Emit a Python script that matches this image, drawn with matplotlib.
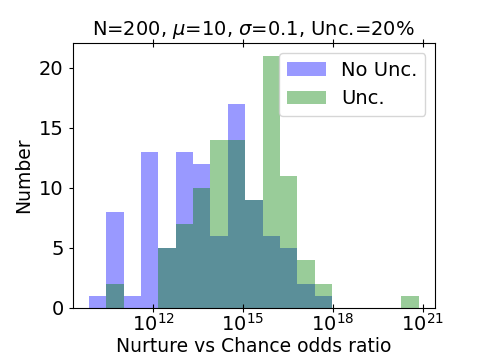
import numpy as np
import matplotlib
matplotlib.use('Agg')
import matplotlib.pyplot as plt

# log10 bin edges (19 bins)
log_lo, log_hi, nbins = 9.867, 20.856, 19
no_unc = [1, 8, 1, 13, 5, 13, 12, 6, 17, 9, 6, 5, 2, 1, 0, 0, 0, 0, 0]
unc = [0, 2, 0, 0, 5, 7, 10, 14, 14, 9, 21, 11, 4, 2, 0, 0, 0, 0, 1]
xticks = [1e12, 1e15, 1e18, 1e21]

edges = 10 ** np.linspace(log_lo, log_hi, nbins + 1)
centers = np.sqrt(edges[:-1] * edges[1:])

fig = plt.figure(figsize=(4.84, 3.63), dpi=100)
ax = fig.add_axes([0.150, 0.152, 0.749, 0.729])

ax.hist(centers, bins=edges, weights=no_unc, color='b', alpha=0.4, label='No Unc.')
ax.hist(centers, bins=edges, weights=unc, color='g', alpha=0.4, label='Unc.')
ax.set_xscale('log')
ax.set_xticks(xticks)
ax.xaxis.set_minor_locator(matplotlib.ticker.NullLocator())

ax.tick_params(axis='x', direction='inout', top=True, length=6, labelsize=14, pad=1)
ax.tick_params(axis='y', direction='out', length=3, labelsize=14)

ax.set_xlabel('Nurture vs Chance odds ratio', fontsize=13.5, labelpad=1)
ax.set_ylabel('Number', fontsize=13.5)
ax.set_title(r'N=200, $\mu$=10, $\sigma$=0.1, Unc.=20%', fontsize=14)
ax.legend(fontsize=14, loc='upper right')

fig.savefig('out.png', dpi=100)
